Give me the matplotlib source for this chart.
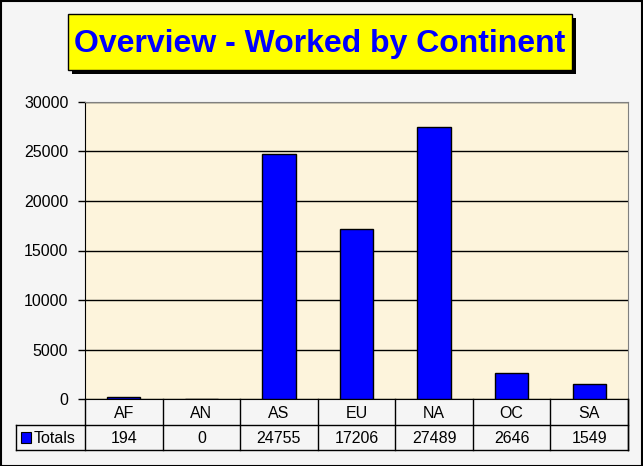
import matplotlib
matplotlib.use("Agg")
import matplotlib.pyplot as plt
from matplotlib.patches import Rectangle

plt.rcParams['font.family'] = ['Liberation Sans', 'DejaVu Sans']

continents = ['AF', 'AN', 'AS', 'EU', 'NA', 'OC', 'SA']
totals = [194, 0, 24755, 17206, 27489, 2646, 1549]
series_name = 'Totals'
title = 'Overview - Worked by Continent'

W, H = 643, 466
fig = plt.figure(figsize=(W / 100, H / 100), dpi=100)
fig.patch.set_facecolor('#f5f5f5')


def px_box(x0, y0, x1, y1):
    # pixel box (top-left origin) -> figure fraction rect
    return [x0 / W, 1 - y1 / H, (x1 - x0) / W, (y1 - y0) / H]


# outer frame
fig.add_artist(Rectangle((0.5 / W, 0.5 / H), 1 - 1.5 / W, 1 - 1.5 / H,
                         transform=fig.transFigure, fill=False,
                         edgecolor='black', linewidth=1.5))

# title box with shadow
tx0, ty0, tx1, ty1 = 68, 14, 572, 70
fig.add_artist(Rectangle(((tx0 + 4) / W, 1 - (ty1 + 4) / H),
                         (tx1 - tx0) / W, (ty1 - ty0) / H,
                         transform=fig.transFigure, facecolor='black',
                         edgecolor='none'))
fig.add_artist(Rectangle((tx0 / W, 1 - ty1 / H), (tx1 - tx0) / W, (ty1 - ty0) / H,
                         transform=fig.transFigure, facecolor='#ffff00',
                         edgecolor='black', linewidth=1))
fig.text((tx0 + tx1) / 2 / W, 1 - (ty0 + ty1 + 4) / 2 / H, title,
         ha='center', va='center', color='#0000ff', fontsize=23,
         fontweight='bold')

fs = 11.5

# plot area
px0, px1, py0, py1 = 85, 628, 102, 399
ax = fig.add_axes(px_box(px0, py0, px1, py1))
ax.set_facecolor('#fdf4dc')
x = range(len(continents))
ax.bar(x, totals, width=0.43, color='#0000ff', edgecolor='black',
       linewidth=1, zorder=3)
ax.set_xlim(-0.5, len(continents) - 0.5)
ax.set_ylim(0, 30000)
ax.set_yticks(range(0, 30001, 5000))
ax.set_yticklabels([str(v) for v in range(0, 30001, 5000)], fontsize=fs)
ax.tick_params(axis='y', length=5, width=1, pad=7)
ax.set_xticks([])
ax.grid(axis='y', color='black', linewidth=1, zorder=1)
for s in ['top', 'right']:
    ax.spines[s].set_color('#808080')
ax.spines['left'].set_color('black')
ax.spines['bottom'].set_color('black')

# data table below the plot
lx0 = 16
ry0, ry1, ry2 = 399, 425, 450
tab = fig.add_axes([0, 0, 1, 1], facecolor='none')
tab.set_xlim(0, W)
tab.set_ylim(H, 0)
tab.axis('off')
colw = (px1 - px0) / len(continents)
lw = 1
tab.plot([px0, px1], [ry1, ry1], color='black', lw=lw)
tab.plot([px1, px1], [ry0, ry2], color='black', lw=lw)
tab.plot([lx0, px1], [ry2, ry2], color='black', lw=lw)
tab.plot([lx0, px0], [ry1, ry1], color='black', lw=lw)
tab.plot([lx0, lx0], [ry1, ry2], color='black', lw=lw)
for i in range(len(continents) + 1):
    xx = px0 + i * colw
    tab.plot([xx, xx], [ry0, ry2], color='black', lw=lw)
for i, (c, v) in enumerate(zip(continents, totals)):
    cx = px0 + (i + 0.5) * colw
    tab.text(cx, (ry0 + ry1) / 2 + 1, c, ha='center', va='center', fontsize=fs)
    tab.text(cx, (ry1 + ry2) / 2 + 1, str(v), ha='center', va='center', fontsize=fs)
tab.add_patch(Rectangle((21, 432), 10, 11, facecolor='#0000ff',
                        edgecolor='black', linewidth=0.8))
tab.text(34, (ry1 + ry2) / 2 + 1, series_name, ha='left', va='center', fontsize=fs)

fig.savefig('out.png', dpi=100, facecolor=fig.get_facecolor())
